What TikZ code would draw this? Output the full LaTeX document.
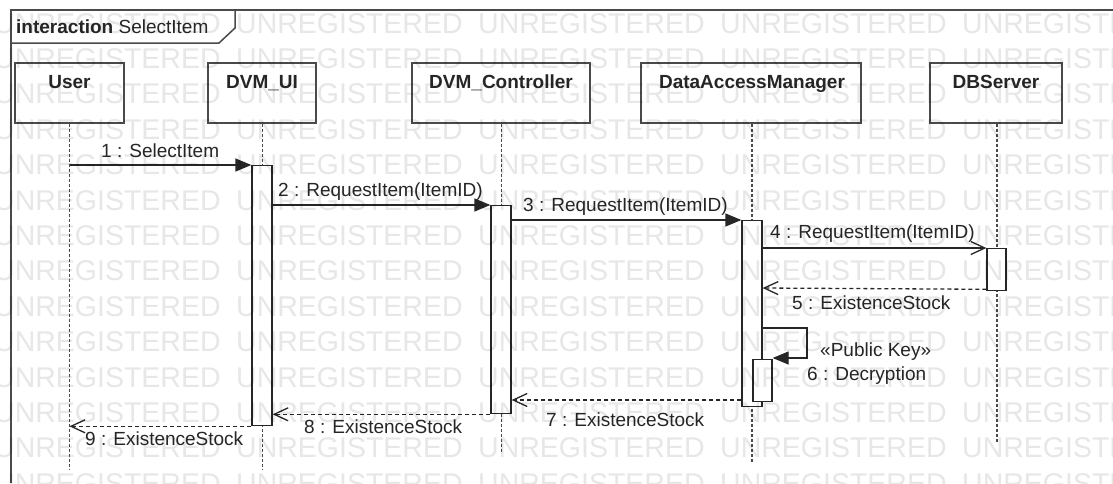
\documentclass[tikz,border=0pt]{standalone}
\usepackage{fontspec}
\setmainfont{Liberation Sans}
\usetikzlibrary{arrows.meta}
\definecolor{ink}{HTML}{262626}
\definecolor{edge}{HTML}{4A4A4A}
\definecolor{wmgray}{HTML}{E7E7E7}

\begin{document}
\begin{tikzpicture}[x=1pt,y=-1pt,
  every node/.style={inner sep=0pt, text=ink},
  lbl/.style={anchor=base west, font=\fontsize{19}{22}\selectfont},
  headbox/.style={draw=edge, line width=1.5pt, fill=white, minimum height=60pt, anchor=north},
  headname/.style={anchor=base, font=\fontsize{19}{22}\selectfont\bfseries},
  lifeline/.style={draw=edge, line width=1.3pt, dash pattern=on 3pt off 2pt},
  actbar/.style={draw=ink, line width=1.3pt, fill=white, anchor=north},
  syncmsg/.style={draw=ink, line width=1.3pt, -{Triangle[length=16pt,width=13pt]}},
  asyncmsg/.style={draw=ink, line width=1.3pt, -{Straight Barb[length=14pt,width=13pt]}},
  replymsg/.style={asyncmsg, dash pattern=on 4pt off 3pt},
  wm/.style={anchor=base west, text=wmgray, font=\fontsize{28.5}{30}\selectfont}
]
\fill[white] (0,0) rectangle (1113,483);
\useasboundingbox (0,0) rectangle (1113,483);

% interaction frame and its name tab
\draw[edge, line width=1.5pt] (1113,10) -- (11,10) -- (11,483);
\draw[edge, line width=1.5pt] (11,43) -- (219,43) -- (235,28) -- (235,10);
\node[anchor=base west, font=\fontsize{19}{22}\selectfont] (title) at (16,33)
  {\textbf{interaction} SelectItem};

% lifeline heads
\node[headbox, minimum width=109pt] (user) at (69.5,62) {};
\node[headbox, minimum width=108pt] (ui)   at (262,62) {};
\node[headbox, minimum width=178pt] (ctl)  at (501,62) {};
\node[headbox, minimum width=220pt] (dam)  at (751,62) {};
\node[headbox, minimum width=132pt] (db)   at (996,62) {};
\node[headname] (userName) at (69.5,88) {User};
\node[headname] (uiName)   at (262,88) {DVM\_UI};
\node[headname] (ctlName)  at (501,88) {DVM\_Controller};
\node[headname] (damName)  at (752,88) {DataAccessManager};
\node[headname] (dbName)   at (996,88) {DBServer};

% lifelines
\coordinate (userEnd) at (69.5,470);
\coordinate (uiEnd)   at (262.5,470);
\coordinate (ctlEnd)  at (501.5,453);
\coordinate (damEnd)  at (752,463);
\coordinate (dbEnd)   at (997,443);
\draw[lifeline] (user.south) -- (userEnd);
\draw[lifeline] ([xshift=0.5pt]ui.south) -- (uiEnd);
\draw[lifeline] ([xshift=0.5pt]ctl.south) -- (ctlEnd);
\draw[lifeline] ([xshift=1pt]dam.south) -- (damEnd);
\draw[lifeline] ([xshift=1pt]db.south) -- (dbEnd);

% activation bars
\node[actbar, minimum width=20pt, minimum height=260pt] (uiAct)  at (262,165) {};
\node[actbar, minimum width=20pt, minimum height=208pt] (ctlAct) at (501,205) {};
\node[actbar, minimum width=20pt, minimum height=186pt] (damAct) at (752,220) {};
\node[actbar, minimum width=19pt, minimum height=42pt]  (decAct) at (762.5,359) {};
\node[actbar, minimum width=19pt, minimum height=42pt]  (dbAct)  at (996.5,248) {};

% messages
\draw[syncmsg] (user.south |- uiAct.north west) -- (uiAct.north west);
\draw[syncmsg] (uiAct.east |- ctlAct.north) -- (ctlAct.north west);
\draw[syncmsg] (ctlAct.east |- damAct.north) -- (damAct.north west);
\draw[asyncmsg] (damAct.east |- dbAct.north) -- (dbAct.north west);
\draw[replymsg] ([yshift=2pt]dbAct.south west) -- (damAct.east |- 0,288);
\coordinate (loopTop) at (807,328);
\draw[syncmsg] (damAct.east |- loopTop) -- (loopTop) |- ([yshift=1pt]decAct.north east);
\draw[replymsg] (damAct.west |- 0,400) -- (ctlAct.east |- 0,400);
\draw[replymsg] (ctlAct.south west) -- (uiAct.east |- ctlAct.south);
\draw[replymsg] (uiAct.south west) -- (user.south |- uiAct.south);

% message labels
\node[lbl] (m1) at (101,157) {1 : SelectItem};
\node[lbl] (m2) at (278,196) {2 : RequestItem(ItemID)};
\node[lbl] (m3) at (523,211) {3 : RequestItem(ItemID)};
\node[lbl] (m4) at (770,238) {4 : RequestItem(ItemID)};
\node[lbl] (m5) at (792,309) {5 : ExistenceStock};
\node[lbl] (st6) at (820,356) {«Public Key»};
\node[lbl] (m6) at (807,380) {6 : Decryption};
\node[lbl] (m7) at (546,426) {7 : ExistenceStock};
\node[lbl] (m8) at (304,433) {8 : ExistenceStock};
\node[lbl] (m9) at (85,445) {9 : ExistenceStock};

% evaluation-copy watermark laid over the whole sheet
\begin{scope}[blend mode=multiply]
\foreach \r in {0,...,13} {
  \foreach \c in {0,...,4} {
    \node[wm] (wm-\r-\c) at ({-6+242*\c},{33+35.4*\r}) {UNREGISTERED};
  }
}
\end{scope}
\end{tikzpicture}
\end{document}
